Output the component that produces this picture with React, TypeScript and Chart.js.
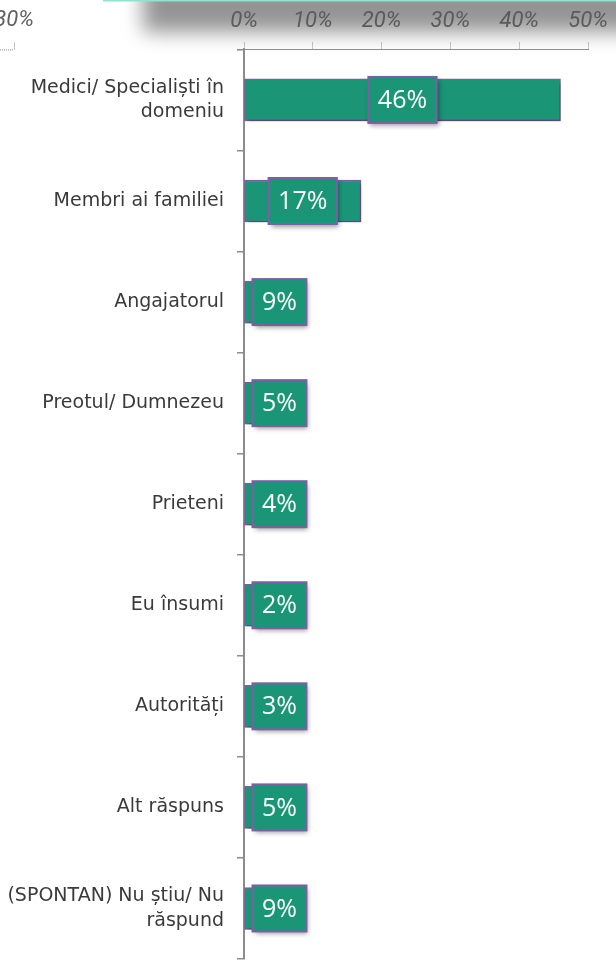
import React, { useEffect, useRef } from 'react';
import { Chart, registerables } from 'chart.js';

Chart.register(...registerables);

const categories: (string | string[])[] = [
  ['Medici/ Specialiști în', 'domeniu'],
  'Membri ai familiei',
  'Angajatorul',
  'Preotul/ Dumnezeu',
  'Prieteni',
  'Eu însumi',
  'Autorități',
  'Alt răspuns',
  ['(SPONTAN) Nu știu/ Nu', 'răspund'],
];
const values = [46, 17, 9, 5, 4, 2, 3, 5, 9];
const xMin = 0;
const xMax = 50;
const xStep = 10;
const strayTickLabel = '30%';

const GREEN = '#1a9677';
const PURPLE = '#7e5fa3';
const AXIS_GRAY = '#8c8c8c';
const TICK_FONT = "Roboto, 'Liberation Sans', sans-serif";

const backdropPlugin = {
  id: 'backdrop',
  beforeDraw(chart: any) {
    const { ctx, width, height } = chart;
    ctx.save();
    ctx.fillStyle = '#ffffff';
    ctx.fillRect(0, 0, width, height);
    ctx.filter = 'blur(10px)';
    ctx.fillStyle = 'rgba(0,0,0,0.42)';
    ctx.fillRect(143, -60, width + 100, 92);
    ctx.restore();
    ctx.save();
    ctx.fillStyle = '#8fe3cf';
    ctx.fillRect(103, 0, width, 1.5);
    ctx.restore();
  },
};

const strayAxisPlugin = {
  id: 'strayAxis',
  afterDraw(chart: any) {
    const { ctx, chartArea } = chart;
    const y = chartArea.top;
    ctx.save();
    ctx.fillStyle = '#5f5f5f';
    ctx.font = `italic 22px ${TICK_FONT}`;
    ctx.textAlign = 'center';
    ctx.textBaseline = 'middle';
    ctx.fillText(strayTickLabel, 14, 20);
    ctx.strokeStyle = AXIS_GRAY;
    ctx.lineWidth = 1;
    ctx.setLineDash([1, 1]);
    ctx.beginPath();
    ctx.moveTo(0, y + 0.5);
    ctx.lineTo(14, y + 0.5);
    ctx.moveTo(14.5, y);
    ctx.lineTo(14.5, y - 7);
    ctx.stroke();
    ctx.restore();
  },
};

const barShadowPlugin = {
  id: 'barShadow',
  beforeDatasetsDraw(chart: any) {
    const { ctx } = chart;
    ctx.save();
    ctx.shadowColor = 'rgba(0,0,0,0.3)';
    ctx.shadowBlur = 4;
    ctx.shadowOffsetX = 2;
    ctx.shadowOffsetY = 3;
  },
  afterDatasetsDraw(chart: any) {
    chart.ctx.restore();
  },
};

const labelBoxPlugin = {
  id: 'labelBoxes',
  afterDatasetsDraw(chart: any) {
    const { ctx } = chart;
    const meta = chart.getDatasetMeta(0);
    const data = chart.data.datasets[0].data as number[];
    ctx.save();
    ctx.font = "25px 'Open Sans', sans-serif";
    meta.data.forEach((bar: any, i: number) => {
      const text = `${data[i]}%`;
      const tw = ctx.measureText(text).width;
      const w = tw + 19;
      const h = 46;
      const base = bar.base;
      const center = (bar.x + base) / 2;
      const cx = Math.max(center, base + 8 + w / 2);
      const x = cx - w / 2;
      const y = bar.y - h / 2;
      ctx.save();
      ctx.shadowColor = 'rgba(0,0,0,0.4)';
      ctx.shadowBlur = 5;
      ctx.shadowOffsetX = 2;
      ctx.shadowOffsetY = 3;
      ctx.fillStyle = GREEN;
      ctx.fillRect(x, y, w, h);
      ctx.restore();
      ctx.strokeStyle = PURPLE;
      ctx.lineWidth = 2;
      ctx.strokeRect(x, y, w, h);
      ctx.fillStyle = '#ffffff';
      ctx.textAlign = 'center';
      ctx.textBaseline = 'middle';
      ctx.fillText(text, cx, bar.y + 1);
    });
    ctx.restore();
  },
};

export default function App() {
  const ref = useRef<HTMLCanvasElement | null>(null);
  useEffect(() => {
    if (!ref.current) return;
    const chart = new Chart(ref.current, {
      type: 'bar',
      data: {
        labels: categories,
        datasets: [
          {
            data: values,
            backgroundColor: GREEN,
            borderColor: PURPLE,
            borderWidth: 1.5,
            borderSkipped: false,
            barThickness: 42,
          },
        ],
      },
      options: {
        indexAxis: 'y',
        responsive: false,
        animation: false,
        devicePixelRatio: 1,
        layout: { padding: { top: 0, right: 28, bottom: 14, left: 0 } },
        plugins: {
          legend: { display: false },
          tooltip: { enabled: false },
        },
        scales: {
          x: {
            position: 'top',
            min: xMin,
            max: xMax,
            ticks: {
              stepSize: xStep,
              callback: (v: any) => `${v}%`,
              color: '#5a5a5a',
              font: { family: TICK_FONT, size: 22, style: 'italic', lineHeight: 1.2 },
              padding: 8,
              maxRotation: 0,
              autoSkip: false,
            },
            grid: {
              drawOnChartArea: false,
              tickLength: 7,
              color: AXIS_GRAY,
              tickBorderDash: [1, 1],
              lineWidth: 1,
            },
            border: { display: true, dash: [1, 1], color: AXIS_GRAY, width: 1 },
            afterFit: (s: any) => {
              s.paddingLeft = 0;
              s.paddingRight = 0;
            },
          },
          y: {
            ticks: {
              color: '#3a3a3a',
              font: { family: "'DejaVu Sans', sans-serif", size: 19, lineHeight: 1.3 },
              padding: 13,
            },
            grid: {
              offset: true,
              drawOnChartArea: false,
              tickLength: 7,
              color: AXIS_GRAY,
              lineWidth: 1.5,
            },
            border: { color: AXIS_GRAY, width: 2 },
            afterFit: (s: any) => {
              s.width = 244;
              s.paddingTop = 0;
              s.paddingBottom = 0;
            },
          },
        },
      } as any,
      plugins: [backdropPlugin, barShadowPlugin, labelBoxPlugin, strayAxisPlugin],
    });
    return () => chart.destroy();
  }, []);
  return (
    <div style={{ position: 'fixed', left: 0, top: 0, width: 616, height: 973 }}>
      <canvas ref={ref} width={616} height={973} />
    </div>
  );
}
